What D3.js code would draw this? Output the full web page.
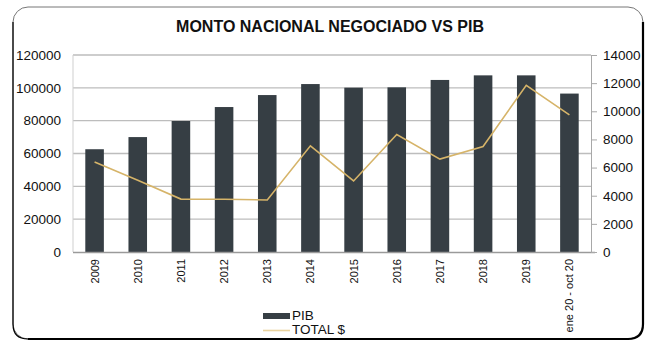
<!DOCTYPE html>
<html>
<head>
<meta charset="utf-8">
<script src="https://cdn.jsdelivr.net/npm/d3@7"></script>
<style>
  html, body { margin: 0; padding: 0; background: #fff; }
  svg text { font-family: "Liberation Sans", Arial, sans-serif; fill: #111; }
</style>
</head>
<body>
<div id="chart"></div>
<script>
// categories on the x axis
var periods = ["2009", "2010", "2011", "2012", "2013", "2014", "2015", "2016", "2017", "2018", "2019", "ene 20 - oct 20"];
// PIB bars (left axis)
var pibValues = [62600, 70000, 79800, 88300, 95600, 102300, 100100, 100300, 104800, 107600, 107600, 96500];
// TOTAL $ line (right axis)
var totalValues = [6400, 5100, 3760, 3750, 3700, 7550, 5050, 8350, 6600, 7500, 11850, 9750];
// tick labels
var leftTicks = [0, 20000, 40000, 60000, 80000, 100000, 120000];
var rightTicks = [0, 2000, 4000, 6000, 8000, 10000, 12000, 14000];

var W = 658, H = 363;
var plot = { left: 73, right: 591, top: 55, bottom: 252 };

var svg = d3.select("#chart").append("svg")
  .attr("width", W)
  .attr("height", H);

// rounded frame, darker on right and bottom
svg.append("rect")
  .attr("x", 13).attr("y", 7)
  .attr("width", 630).attr("height", 332)
  .attr("rx", 15).attr("ry", 15)
  .attr("fill", "none")
  .attr("stroke", "#777")
  .attr("stroke-width", 1);
svg.append("path")
  .attr("d", "M643,22 L643,324 Q643,339 628,339 L28,339")
  .attr("fill", "none")
  .attr("stroke", "#000")
  .attr("stroke-width", 2.2);
svg.append("path")
  .attr("d", "M13,22 L13,324 Q13,339 28,339")
  .attr("fill", "none")
  .attr("stroke", "#000")
  .attr("stroke-width", 1.2);

// title
svg.append("text")
  .attr("x", 330).attr("y", 32)
  .attr("text-anchor", "middle")
  .style("font-size", "16px")
  .style("font-weight", "bold")
  .text("MONTO NACIONAL NEGOCIADO VS PIB");

var x = d3.scaleBand()
  .domain(periods)
  .range([plot.left, plot.right])
  .padding(0);

var yLeft = d3.scaleLinear()
  .domain([0, 120000])
  .range([plot.bottom, plot.top]);

var yRight = d3.scaleLinear()
  .domain([0, 14000])
  .range([plot.bottom, plot.top]);

// grid lines
svg.append("g")
  .selectAll("line")
  .data(leftTicks.filter(function(d) { return d > 0; }))
  .enter()
  .append("line")
  .attr("x1", plot.left).attr("x2", plot.right)
  .attr("y1", function(d) { return yLeft(d); })
  .attr("y2", function(d) { return yLeft(d); })
  .attr("stroke", "#bdbdbd")
  .attr("stroke-width", 1.3);

// left plot edge
svg.append("line")
  .attr("x1", plot.left).attr("x2", plot.left)
  .attr("y1", plot.top).attr("y2", plot.bottom)
  .attr("stroke", "#cfcfcf")
  .attr("stroke-width", 1);

// bars
var barW = x.bandwidth() * 0.43;
svg.append("g")
  .selectAll("rect")
  .data(pibValues)
  .enter()
  .append("rect")
  .attr("x", function(d, i) { return x(periods[i]) + x.bandwidth() / 2 - barW / 2; })
  .attr("y", function(d) { return yLeft(d); })
  .attr("width", barW)
  .attr("height", function(d) { return plot.bottom - yLeft(d); })
  .attr("fill", "#363e44");

// baseline
svg.append("line")
  .attr("x1", plot.left).attr("x2", plot.right + 4)
  .attr("y1", plot.bottom + 0.5).attr("y2", plot.bottom + 0.5)
  .attr("stroke", "#9a9a9a")
  .attr("stroke-width", 1.3);

// left axis labels
var leftAxis = d3.axisLeft(yLeft)
  .tickValues(leftTicks)
  .tickSize(0)
  .tickPadding(12)
  .tickFormat(d3.format("d"));
var gl = svg.append("g")
  .attr("transform", "translate(" + plot.left + ",0)")
  .call(leftAxis);
gl.select(".domain").remove();
gl.selectAll("text")
  .style("font-size", "13.5px")
  .style("font-family", "'Liberation Sans', Arial, sans-serif")
  .attr("fill", "#111");

// right axis
var rightAxis = d3.axisRight(yRight)
  .tickValues(rightTicks)
  .tickSizeInner(6)
  .tickSizeOuter(0)
  .tickPadding(6)
  .tickFormat(d3.format("d"));
var gr = svg.append("g")
  .attr("transform", "translate(" + plot.right + ",0)")
  .call(rightAxis);
gr.select(".domain").attr("stroke", "#a8a8a8");
gr.selectAll(".tick line").attr("stroke", "#a8a8a8");
gr.selectAll("text")
  .style("font-size", "13.5px")
  .style("font-family", "'Liberation Sans', Arial, sans-serif")
  .attr("fill", "#111");

// x labels, rotated
svg.append("g")
  .selectAll("text")
  .data(periods)
  .enter()
  .append("text")
  .attr("transform", function(d) {
    return "translate(" + (x(d) + x.bandwidth() / 2 + 4) + "," + (plot.bottom + 7) + ") rotate(-90)";
  })
  .attr("text-anchor", "end")
  .style("font-size", "11px")
  .text(function(d) { return d; });

// TOTAL $ line
var line = d3.line()
  .x(function(d, i) { return x(periods[i]) + x.bandwidth() / 2; })
  .y(function(d) { return yRight(d); });
svg.append("path")
  .datum(totalValues)
  .attr("d", line)
  .attr("fill", "none")
  .attr("stroke", "#d6b469")
  .attr("stroke-width", 1.6);

// legend
svg.append("rect")
  .attr("x", 263).attr("y", 313)
  .attr("width", 27).attr("height", 6)
  .attr("fill", "#363e44");
svg.append("text")
  .attr("x", 292).attr("y", 320)
  .style("font-size", "13.5px")
  .text("PIB");
svg.append("line")
  .attr("x1", 263).attr("x2", 290)
  .attr("y1", 330.5).attr("y2", 330.5)
  .attr("stroke", "#ead39f")
  .attr("stroke-width", 1.6);
svg.append("text")
  .attr("x", 292).attr("y", 334)
  .style("font-size", "13.5px")
  .text("TOTAL $");
</script>
</body>
</html>
